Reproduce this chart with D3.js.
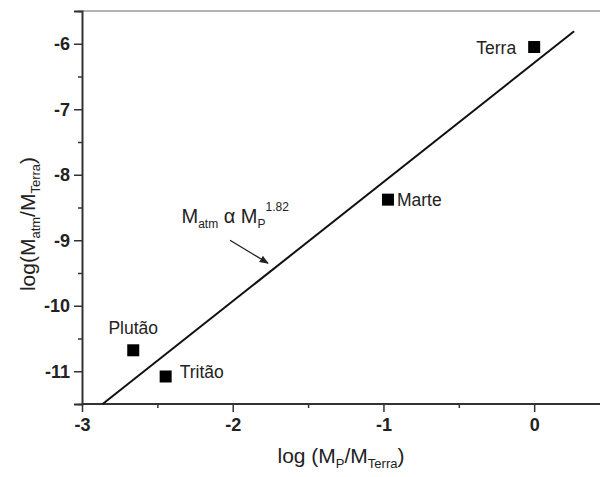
<!DOCTYPE html>
<html>
<head>
<meta charset="utf-8">
<script src="https://cdn.jsdelivr.net/npm/d3@7"></script>
<style>
  body { margin: 0; background: #fff; }
  text { font-family: "Liberation Sans", Arial, sans-serif; fill: #222; }
</style>
</head>
<body>
<div id="chart"></div>
<script>
// Bodies: log of planet mass vs log of atmosphere mass (relative to Earth)
const bodies = ["Terra", "Marte", "Plutão", "Tritão"];
const logMp = [0, -0.97, -2.66, -2.445];
const logMatm = [-6.05, -8.38, -10.68, -11.08];

// Fitted line M_atm ∝ M_P^1.82 (endpoints)
const fitX = [-2.863, 0.265];
const fitY = [-11.5, -5.81];

// Ticks
const xMajor = [-3, -2, -1, 0];
const xMinor = [-2.5, -1.5, -0.5];
const yMajor = [-11, -10, -9, -8, -7, -6];
const yMinor = [-11.5, -10.5, -9.5, -8.5, -7.5, -6.5, -5.5];

// Annotation arrow (data coords)
const arrowFrom = [-2.018, -9.0];
const arrowTo = [-1.766, -9.35];
const annotPos = [-2.34, -8.74];

const W = 600, H = 477;
const margin = {top: 11, right: 0, bottom: 73, left: 82};

const svg = d3.select("#chart").append("svg")
  .attr("width", W).attr("height", H);

svg.append("defs").append("marker")
  .attr("id", "arrow")
  .attr("viewBox", "0 0 10 10")
  .attr("refX", 9).attr("refY", 5)
  .attr("markerWidth", 7).attr("markerHeight", 7)
  .attr("orient", "auto")
  .append("path")
  .attr("d", "M0,1 L10,5 L0,9 Z")
  .attr("fill", "#222");

const x = d3.scaleLinear().domain([-3, 0.45]).range([margin.left, 602]);
const y = d3.scaleLinear().domain([-11.5, -5.5]).range([H - margin.bottom, margin.top]);

// plain hyphen for negative tick labels, like the original
const fmt = d => String(d);

// top frame line
svg.append("line")
  .attr("x1", x(-3)).attr("x2", W)
  .attr("y1", y(-5.5)).attr("y2", y(-5.5))
  .attr("stroke", "#9a9a9a").attr("stroke-width", 1.5);

// x axis
const xAxis = svg.append("g")
  .attr("transform", `translate(0,${y(-11.5)})`)
  .call(d3.axisBottom(x).tickValues(xMajor).tickSize(8).tickPadding(6).tickFormat(fmt));
svg.append("g")
  .attr("transform", `translate(0,${y(-11.5)})`)
  .call(d3.axisBottom(x).tickValues(xMinor).tickSize(4).tickFormat(""))
  .select(".domain").remove();

// y axis
const yAxis = svg.append("g")
  .attr("transform", `translate(${x(-3)},0)`)
  .call(d3.axisLeft(y).tickValues(yMajor).tickSize(8).tickPadding(4).tickFormat(fmt));
svg.append("g")
  .attr("transform", `translate(${x(-3)},0)`)
  .call(d3.axisLeft(y).tickValues(yMinor).tickSize(4).tickFormat(""))
  .select(".domain").remove();

xAxis.select(".domain").attr("d", `M${x(-3)},0H${W}`);
svg.selectAll(".domain").attr("stroke", "#333").attr("stroke-width", 2);
svg.selectAll(".tick line").attr("stroke", "#333").attr("stroke-width", 1.5);
svg.selectAll(".tick text")
  .style("font-family", "'Liberation Sans', Arial, sans-serif")
  .style("font-size", "18px").style("font-weight", "bold").attr("fill", "#222");

// fitted line
const line = d3.line().x(d => x(d[0])).y(d => y(d[1]));
svg.append("path")
  .datum(fitX.map((v, i) => [v, fitY[i]]))
  .attr("d", line)
  .attr("fill", "none").attr("stroke", "#111").attr("stroke-width", 2);

// points
const pts = bodies.map((b, i) => ({name: b, x: logMp[i], y: logMatm[i]}));
svg.selectAll(".pt").data(pts).enter().append("rect")
  .attr("class", "pt")
  .attr("x", d => x(d.x) - 6).attr("y", d => y(d.y) - 6)
  .attr("width", 12).attr("height", 12)
  .attr("fill", "#000");

// point labels
const labelOffsets = {
  "Terra": {dx: -18, dy: 7, anchor: "end"},
  "Marte": {dx: 9, dy: 6, anchor: "start"},
  "Plutão": {dx: 0, dy: -16, anchor: "middle"},
  "Tritão": {dx: 14, dy: 2, anchor: "start"}
};
svg.selectAll(".lbl").data(pts).enter().append("text")
  .attr("class", "lbl")
  .attr("x", d => x(d.x) + labelOffsets[d.name].dx)
  .attr("y", d => y(d.y) + labelOffsets[d.name].dy)
  .attr("text-anchor", d => labelOffsets[d.name].anchor)
  .style("font-size", "17.5px")
  .text(d => d.name);

// annotation
const ann = svg.append("text")
  .attr("x", x(annotPos[0])).attr("y", y(annotPos[1]))
  .style("font-size", "20px");
ann.append("tspan").text("M");
ann.append("tspan").attr("dy", 5).style("font-size", "12px").text("atm");
ann.append("tspan").attr("dy", -5).text(" α M");
ann.append("tspan").attr("dy", 5).style("font-size", "12px").text("P");
ann.append("tspan").attr("dy", -17).style("font-size", "12px").text("1.82");

svg.append("line")
  .attr("x1", x(arrowFrom[0])).attr("y1", y(arrowFrom[1]))
  .attr("x2", x(arrowTo[0])).attr("y2", y(arrowTo[1]))
  .attr("stroke", "#222").attr("stroke-width", 1.3)
  .attr("marker-end", "url(#arrow)");

// axis titles
const xt = svg.append("text")
  .attr("x", (x(-3) + W) / 2).attr("y", 463)
  .attr("text-anchor", "middle")
  .style("font-size", "21px");
xt.append("tspan").text("log (M");
xt.append("tspan").attr("dy", 5).style("font-size", "13px").text("P");
xt.append("tspan").attr("dy", -5).text("/M");
xt.append("tspan").attr("dy", 5).style("font-size", "13px").text("Terra");
xt.append("tspan").attr("dy", -5).text(")");

const yt = svg.append("text")
  .attr("transform", `translate(35,224) rotate(-90)`)
  .attr("text-anchor", "middle")
  .style("font-size", "21px");
yt.append("tspan").text("log(M");
yt.append("tspan").attr("dy", 5).style("font-size", "13px").text("atm");
yt.append("tspan").attr("dy", -5).text("/M");
yt.append("tspan").attr("dy", 5).style("font-size", "13px").text("Terra");
yt.append("tspan").attr("dy", -5).text(")");
</script>
</body>
</html>
